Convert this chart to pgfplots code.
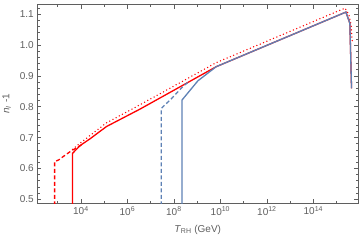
\documentclass[border=0pt]{standalone}
\usepackage{fontspec}
\setmainfont{Liberation Sans}
\usepackage{pgfplots}
\pgfplotsset{compat=1.18}
\definecolor{mred}{rgb}{1,0,0}
\definecolor{mblue}{RGB}{94,129,181}
\definecolor{fg}{RGB}{95,95,95}
\begin{document}
\begin{tikzpicture}
\begin{axis}[name=ax, scale only axis, width=320.7pt, height=198.3pt,
  xmode=log, log basis x=10, xmin=133, xmax=8.3e15, ymin=0.488, ymax=1.131,
  xtick={1e4,1e6,1e8,1e10,1e12,1e14},
  xticklabels={10\textsuperscript{4},10\textsuperscript{6},10\textsuperscript{8},10\textsuperscript{10},10\textsuperscript{12},10\textsuperscript{14}},
  minor xtick={1e3,1e5,1e7,1e9,1e11,1e13,1e15},
  ytick={0.5,0.6,0.7,0.8,0.9,1.0,1.1},
  minor ytick={0.52,0.54,0.56,0.58,0.62,0.64,0.66,0.68,0.72,0.74,0.76,0.78,0.82,0.84,0.86,0.88,0.92,0.94,0.96,0.98,1.02,1.04,1.06,1.08,1.12},
  yticklabel style={/pgf/number format/.cd, fixed, fixed zerofill, precision=1, assume math mode=true},
  tick align=inside, major tick length=4pt, minor tick length=2.5pt,
  axis line style={draw=fg, line width=0.6pt},
  every tick/.style={draw=fg, line width=0.6pt},
  tick label style={font=\fontsize{10}{12}\selectfont, text=fg},
  label style={font=\fontsize{10}{12}\selectfont, text=fg},
  xlabel={\textit{T}\textsubscript{RH} (GeV)},
  xlabel style={yshift=-3pt},
  ylabel={\textit{n}\textsubscript{\textit{I}} -1},
  ylabel style={yshift=2pt},
]
% red dotted
\addplot[mred, line width=1.5pt, line cap=round, dash pattern=on 0pt off 3.6pt] coordinates {
(4365,0.662) (1e4,0.684) (1.26e5,0.748) (3.2e6,0.805) (6.6e9,0.943) (2.3e15,1.12) (3.4e15,1.098) (4.2e15,1.066) (4.7e15,1.01)};
% red dashed
\addplot[mred, line width=1.3pt, dash pattern=on 4pt off 2.5pt] coordinates {
(741,0.48) (741,0.622) (1122,0.628) (2000,0.642) (4000,0.658) (7000,0.668) (12000,0.679)};
% red solid
\addplot[mred, line width=1.3pt] coordinates {
(4365,0.48) (4365,0.649) (9120,0.674) (24500,0.696) (1.26e5,0.736) (3.39e6,0.792) (6.6e9,0.930) (2.5e15,1.107) (3.7e15,1.071) (4.37e15,0.86)};
% blue dashed
\addplot[mblue, line width=1.3pt, dash pattern=on 4pt off 2.5pt] coordinates {
(2.88e7,0.48) (2.88e7,0.795) (7.76e7,0.826) (2.45e8,0.866) (4e8,0.879)};
% blue solid
\addplot[mblue, line width=1.3pt] coordinates {
(2.24e8,0.48) (2.24e8,0.822) (1.07e9,0.884) (6.6e9,0.930) (2.5e15,1.107) (3.7e15,1.071) (4.37e15,0.86)};
\end{axis}
\pgfresetboundingbox
\path ([shift={(-37.3pt,-38pt)}]ax.south west) rectangle ([shift={(2pt,4.7pt)}]ax.north east);
\end{tikzpicture}
\end{document}
